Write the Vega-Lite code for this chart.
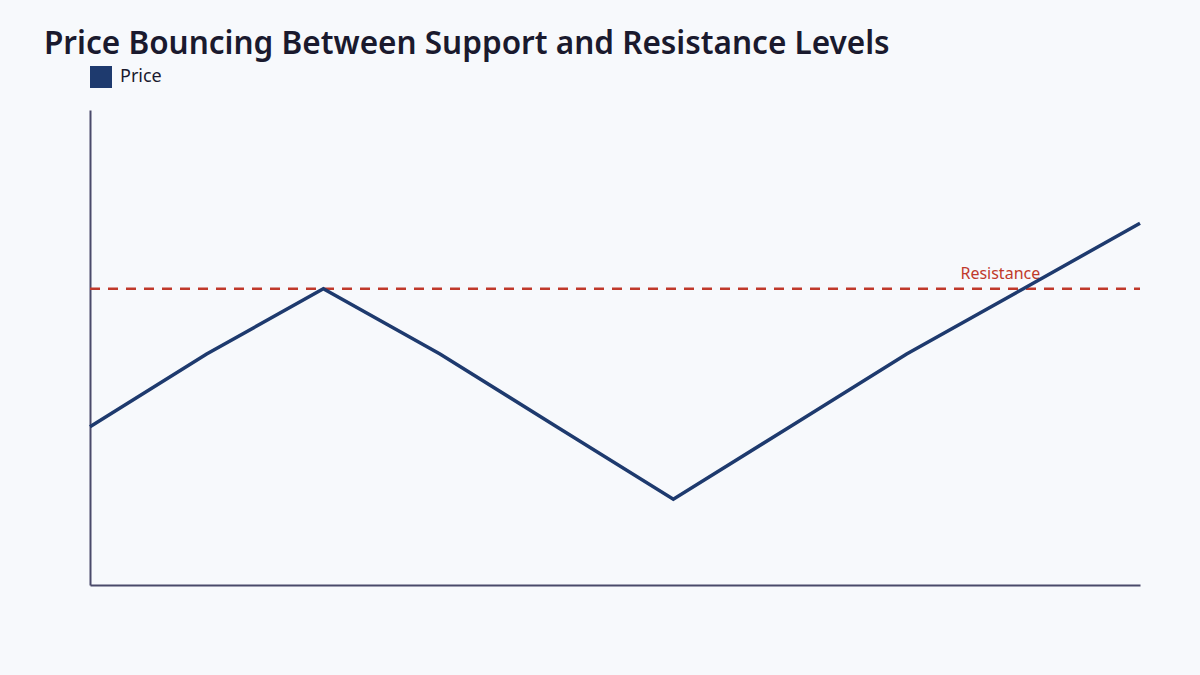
{
  "$schema": "https://vega.github.io/schema/vega-lite/v6.json",
  "width": 1050,
  "height": 475,
  "autosize": {"type": "none"},
  "padding": {"left": 90, "top": 110, "right": 60, "bottom": 90},
  "background": "#f7f9fc",
  "title": {
    "text": "Price Bouncing Between Support and Resistance Levels",
    "anchor": "start",
    "dx": -39,
    "dy": 6,
    "fontSize": 31.5,
    "font": "Noto Sans",
    "fontWeight": 600,
    "color": "#1a1a2e",
    "offset": 12
  },
  "config": {
    "view": {"stroke": null},
    "font": "Noto Sans"
  },
  "datasets": {
    "prices": [
      {"t": 0, "price": 100, "series": "Price"},
      {"t": 1, "price": 110, "series": "Price"},
      {"t": 2, "price": 119, "series": "Price"},
      {"t": 3, "price": 110, "series": "Price"},
      {"t": 4, "price": 100, "series": "Price"},
      {"t": 5, "price": 90, "series": "Price"},
      {"t": 6, "price": 100, "series": "Price"},
      {"t": 7, "price": 110, "series": "Price"},
      {"t": 8, "price": 119, "series": "Price"},
      {"t": 9, "price": 128, "series": "Price"}
    ],
    "levels": [
      {"level": 119, "label": "Resistance", "t0": 0, "t1": 9, "tl": 8}
    ]
  },
  "layer": [
    {
      "data": {"name": "levels"},
      "mark": {"type": "rule", "color": "#c0392b", "strokeWidth": 2.5, "strokeDash": [10, 8]},
      "encoding": {
        "x": {"field": "t0", "type": "quantitative", "scale": {"domain": [0, 9], "nice": false}},
        "x2": {"field": "t1"},
        "y": {"field": "level", "type": "quantitative"}
      }
    },
    {
      "data": {"name": "levels"},
      "mark": {"type": "text", "color": "#c0392b", "fontSize": 16, "align": "center", "baseline": "alphabetic", "dx": -23, "dy": -10},
      "encoding": {
        "x": {"field": "tl", "type": "quantitative"},
        "y": {"field": "level", "type": "quantitative"},
        "text": {"field": "label"}
      }
    },
    {
      "data": {"name": "prices"},
      "mark": {"type": "line", "strokeWidth": 3.5, "strokeJoin": "miter"},
      "encoding": {
        "x": {
          "field": "t",
          "type": "quantitative",
          "scale": {"domain": [0, 9], "nice": false},
          "axis": {"title": null, "labels": false, "ticks": false, "grid": false, "domainColor": "#4a4a6a", "domainWidth": 2}
        },
        "y": {
          "field": "price",
          "type": "quantitative",
          "scale": {"domain": [78.2, 143.6], "nice": false, "zero": false},
          "axis": {"title": null, "labels": false, "ticks": false, "grid": false, "domainColor": "#4a4a6a", "domainWidth": 2}
        },
        "color": {
          "field": "series",
          "type": "nominal",
          "scale": {"range": ["#1e3a6e"]},
          "legend": {
            "title": null,
            "orient": "top",
            "direction": "horizontal",
            "symbolType": "square",
            "symbolSize": 484,
            "symbolFillColor": "#1e3a6e",
            "symbolStrokeWidth": 0,
            "labelFontSize": 18,
            "labelOffset": 8,
            "labelColor": "#1a1a2e",
            "offset": 22,
            "padding": 0
          }
        }
      }
    }
  ]
}
